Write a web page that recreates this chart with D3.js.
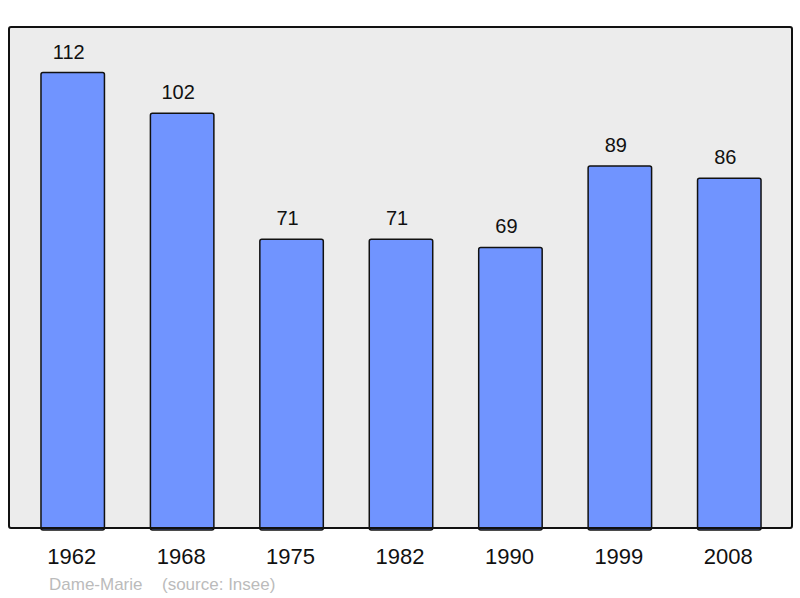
<!DOCTYPE html>
<html>
<head>
<meta charset="utf-8">
<script src="https://cdn.jsdelivr.net/npm/d3@7"></script>
<style>
  body { margin: 0; background: #fff; }
  text { font-family: "Liberation Sans", Arial, sans-serif; }
</style>
</head>
<body>
<script>
var years = ['1962', '1968', '1975', '1982', '1990', '1999', '2008'];
var population = [112, 102, 71, 71, 69, 89, 86];
var commune = 'Dame-Marie';
var source = '(source: Insee)';

var W = 800, H = 598;
var frame = {x: 9, y: 27, w: 783, h: 501};

var svg = d3.select('body').append('svg')
  .attr('width', W)
  .attr('height', H);

// plot background
svg.append('rect')
  .attr('x', frame.x)
  .attr('y', frame.y)
  .attr('width', frame.w)
  .attr('height', frame.h)
  .attr('rx', 2)
  .attr('fill', '#ececec');

var x = d3.scaleBand()
  .domain(years)
  .range([18, 784])
  .paddingInner(0.42)
  .paddingOuter(0.21);

var y = d3.scaleLinear()
  .domain([0, d3.max(population) * 1.1])
  .range([frame.y + frame.h, frame.y]);

svg.selectAll('rect.bar')
  .data(population)
  .enter()
  .append('rect')
  .attr('class', 'bar')
  .attr('x', function(d, i) { return x(years[i]); })
  .attr('y', function(d) { return y(d); })
  .attr('width', x.bandwidth())
  .attr('height', function(d) { return y(0) - y(d) + 2; })
  .attr('rx', 2)
  .attr('fill', '#7094ff')
  .attr('stroke', '#111')
  .attr('stroke-width', 1.5);

svg.selectAll('text.val')
  .data(population)
  .enter()
  .append('text')
  .attr('class', 'val')
  .attr('x', function(d, i) { return x(years[i]) + x.bandwidth() / 2 - 4; })
  .attr('y', function(d) { return y(d) - 14; })
  .attr('text-anchor', 'middle')
  .attr('font-size', 20)
  .attr('fill', '#111')
  .text(function(d) { return d; });

// frame border drawn over bars
svg.append('rect')
  .attr('x', frame.x)
  .attr('y', frame.y)
  .attr('width', frame.w)
  .attr('height', frame.h)
  .attr('rx', 2)
  .attr('fill', 'none')
  .attr('stroke', '#111')
  .attr('stroke-width', 2);

var xAxis = d3.axisBottom(x).tickSize(0).tickPadding(0);
var gx = svg.append('g')
  .attr('transform', 'translate(-1,' + 564 + ')')
  .call(xAxis);
gx.select('.domain').remove();
gx.selectAll('text')
  .attr('dy', 0)
  .attr('font-size', 22)
  .attr('font-family', '"Liberation Sans", Arial, sans-serif')
  .attr('fill', '#111');

svg.append('text')
  .attr('x', 49)
  .attr('y', 590)
  .attr('font-size', 17)
  .attr('fill', '#bbb')
  .text(commune);

svg.append('text')
  .attr('x', 162)
  .attr('y', 590)
  .attr('font-size', 17)
  .attr('fill', '#bbb')
  .text(source);
</script>
</body>
</html>
